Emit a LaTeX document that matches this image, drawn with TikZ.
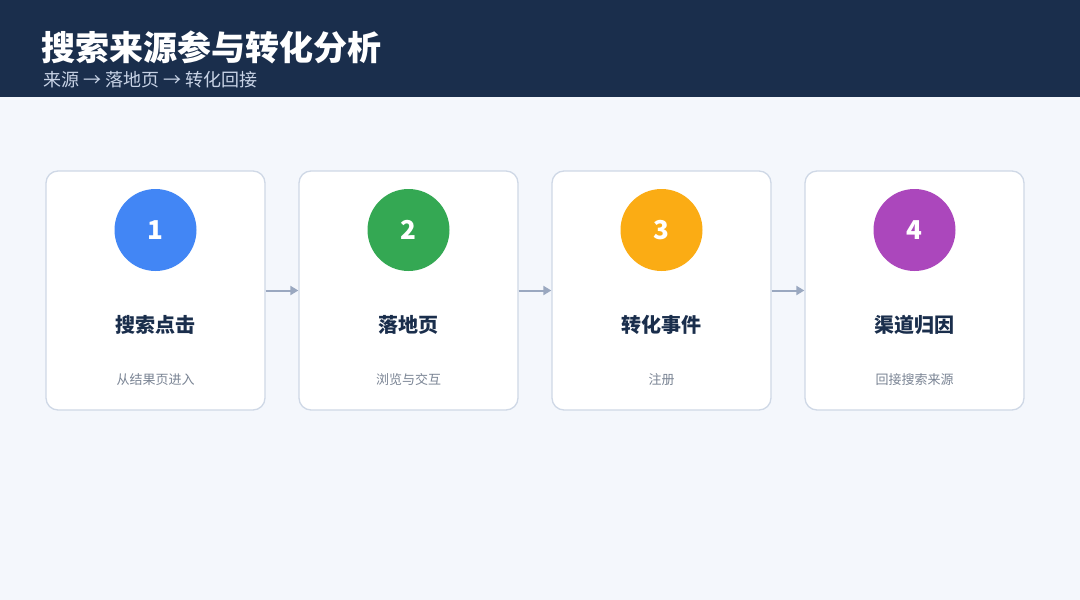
\documentclass[tikz,border=0pt]{standalone}
\usepackage{fontspec}
\setmainfont{Noto Sans CJK SC}
\usetikzlibrary{arrows.meta}
\definecolor{navy}{HTML}{1A2E4C}
\definecolor{bgc}{HTML}{F4F7FC}
\definecolor{bord}{HTML}{CFD8E6}
\definecolor{subc}{HTML}{C8D3E6}
\definecolor{grayt}{HTML}{7A8494}
\definecolor{arr}{HTML}{9AA8C0}
\definecolor{c1}{HTML}{4286F5}
\definecolor{c2}{HTML}{34A853}
\definecolor{c3}{HTML}{FBAC14}
\definecolor{c4}{HTML}{AB47BC}
\begin{document}
\begin{tikzpicture}[x=1pt,y=-1pt,
  card/.style={draw=bord,line width=1.3pt,fill=white,rounded corners=12pt,minimum width=219pt,minimum height=239pt,inner sep=0pt},
  circ/.style={circle,minimum size=82pt,inner sep=0pt,text=white,font=\fontsize{26}{30}\selectfont\bfseries},
  ttl/.style={text=navy,font=\fontsize{20}{24}\selectfont\bfseries},
  sub/.style={text=grayt,font=\fontsize{13}{16}\selectfont},
  conn/.style={draw=arr,line width=2pt,-{Triangle[length=8pt,width=9pt]}}]
\fill[bgc] (0,0) rectangle (1080,600);
\fill[navy] (0,0) rectangle (1080,97);
\node[anchor=west,text=white,font=\fontsize{34}{40}\selectfont\bfseries] (title) at (38,47) {搜索来源参与转化分析};
\node[anchor=west,text=subc,font=\fontsize{18}{22}\selectfont] (subt) at (40,80) {来源 → 落地页 → 转化回接};
\foreach \i/\x/\c/\t/\s in {1/155.5/c1/搜索点击/从结果页进入,2/408.5/c2/落地页/浏览与交互,3/661.5/c3/转化事件/注册/下单/留资,4/914.5/c4/渠道归因/回接搜索来源}{
  \node[card] (card\i) at (\x,290.5) {};
  \node[circ,fill=\c] (n\i) at (\x,230) {\i};
  \node[ttl] (t\i) at (\x,325) {\t};
  \node[sub] (s\i) at (\x,380) {\s};
}
\draw[conn] (card1.east) -- (card2.west);
\draw[conn] (card2.east) -- (card3.west);
\draw[conn] (card3.east) -- (card4.west);
\end{tikzpicture}
\end{document}
